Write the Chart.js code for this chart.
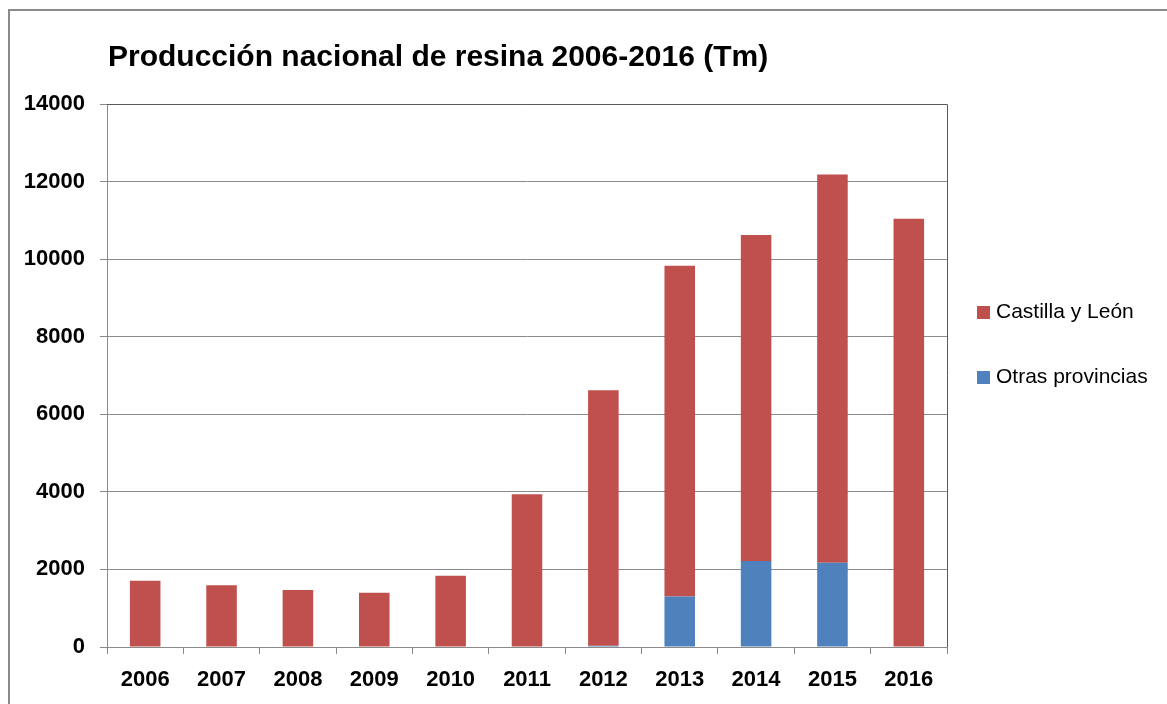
<!DOCTYPE html>
<html>
<head>
<meta charset="utf-8">
<script src="https://cdn.jsdelivr.net/npm/chart.js@4"></script>
<style>
  html, body { margin: 0; padding: 0; background: #fff; }
  #wrap { position: relative; width: 1167px; height: 704px; }
  #frame { position: absolute; left: 8px; top: 9px; width: 1170px; height: 710px;
           border-left: 2px solid #8a8a8a; border-top: 2px solid #8a8a8a; pointer-events: none; }
  #legend { position: absolute; left: 977px; top: 298px; font-family: "Liberation Sans", sans-serif;
            font-size: 21px; color: #000; }
  #legend div { height: 26px; line-height: 26px; margin-bottom: 39px; white-space: nowrap; }
  #legend span { display: inline-block; width: 13px; height: 13px; margin-right: 6px; vertical-align: -1px; }
</style>
</head>
<body>
<div id="wrap">
  <canvas id="chart" width="1167" height="704"></canvas>
  <div id="frame"></div>
  <div id="legend"></div>
</div>
<script>
(function () {
    'use strict'

    const years = ['2006', '2007', '2008', '2009', '2010', '2011', '2012', '2013', '2014', '2015', '2016'];
    const castillaLeon = [1710, 1590, 1470, 1400, 1840, 3940, 6590, 8530, 8400, 10010, 11040];
    const otrasProvincias = [0, 0, 0, 0, 0, 0, 30, 1300, 2220, 2170, 0];
    const title = 'Producción nacional de resina 2006-2016 (Tm)';

    const red = '#C0504D';
    const blue = '#4F81BD';

    // legend on the right, Castilla first like the original
    const legend = document.getElementById('legend');
    [['Castilla y León', red], ['Otras provincias', blue]].forEach(function (item) {
        const row = document.createElement('div');
        row.innerHTML = '<span style="background:' + item[1] + '"></span>' + item[0];
        legend.appendChild(row);
    });

    const frame = {
        id: 'frame',
        afterDraw(chart) {
            const a = chart.chartArea;
            const c = chart.ctx;
            c.save();
            c.strokeStyle = '#5a5a5a';
            c.lineWidth = 1;
            c.beginPath();
            c.moveTo(a.left, a.top + 0.5);
            c.lineTo(a.right + 0.5, a.top + 0.5);
            c.lineTo(a.right + 0.5, a.bottom);
            c.stroke();
            c.fillStyle = '#000';
            c.font = 'bold 30px "Liberation Sans", sans-serif';
            c.textBaseline = 'alphabetic';
            c.fillText(title, a.left + 1, 66);
            c.restore();
        }
    };

    const tickFont = { family: '"Liberation Sans", sans-serif', size: 22, weight: 'bold' };

    new Chart(document.getElementById('chart'), {
        type: 'bar',
        data: {
            labels: years,
            datasets: [{
                label: 'Otras provincias',
                data: otrasProvincias,
                backgroundColor: blue
            }, {
                label: 'Castilla y León',
                data: castillaLeon,
                backgroundColor: red
            }]
        },
        options: {
            responsive: false,
            animation: false,
            layout: { padding: { left: 17, top: 104, right: 220, bottom: 0 } },
            datasets: { bar: { barPercentage: 0.4, categoryPercentage: 1.0 } },
            plugins: {
                legend: { display: false },
                title: { display: false },
                tooltip: { enabled: false }
            },
            scales: {
                x: {
                    stacked: true,
                    afterFit: function (s) { s.height = 57; },
                    grid: { display: true, drawOnChartArea: false, drawTicks: true, tickLength: 7, color: '#8a8a8a' },
                    border: { color: '#8a8a8a' },
                    ticks: { color: '#000', font: tickFont, padding: 13 }
                },
                y: {
                    stacked: true,
                    min: 0,
                    max: 14000,
                    afterFit: function (s) { s.width = 90; },
                    grid: { color: '#8a8a8a', tickLength: 7 },
                    border: { color: '#8a8a8a' },
                    ticks: {
                        stepSize: 2000, color: '#000', font: tickFont, padding: 15,
                        callback: function (v) { return String(v); }
                    }
                }
            }
        },
        plugins: [frame]
    });
})()
</script>
</body>
</html>
